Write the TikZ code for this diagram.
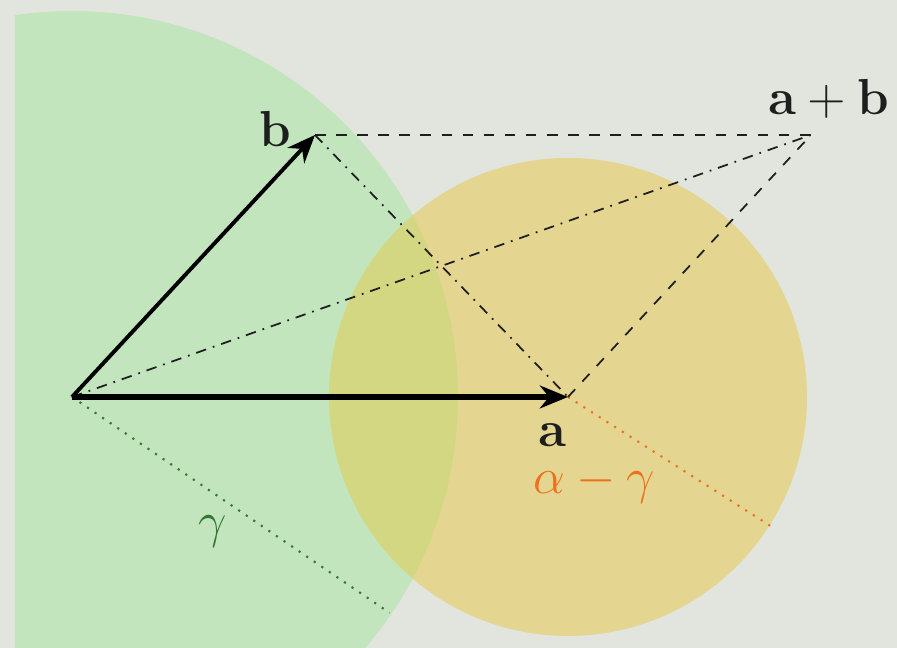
\documentclass[tikz,border=0pt]{standalone}
\usepackage{amsmath,amssymb}
\usepackage{xcolor}
\usetikzlibrary{arrows.meta,positioning,calc}
\definecolor{bggray}{RGB}{226,228,222}
\definecolor{diskgreen}{RGB}{194,229,190}
\definecolor{diskorange}{RGB}{230,202,70}
\definecolor{gammagreen}{RGB}{50,120,50}
\definecolor{alphaorange}{RGB}{238,112,30}
\definecolor{inkdark}{RGB}{30,30,30}

\begin{document}
\begin{tikzpicture}[>={Stealth[length=8pt,width=6.5pt]},font=\fontsize{14}{17}\selectfont,
  vec/.style={->,draw=black,line width=1.1pt},
  aux/.style={draw=inkdark,line width=0.5pt,dashed},
  diag/.style={draw=inkdark,line width=0.5pt,dash dot},
  radline/.style={line width=0.6pt,dotted}]
\fill[bggray] (0,0) rectangle (8.97,6.48);
\useasboundingbox (0,0) rectangle (8.97,6.48);
\coordinate (O) at (0.72,2.51);
\coordinate (a) at (5.68,2.51);
\coordinate (b) at (3.15,5.13);
\coordinate (ab) at ($(a)+(b)-(O)$);
\coordinate (gend) at ($(O)+(-34.2:3.84)$);
\coordinate (oend) at ($(a)+(-32.5:2.41)$);
% the two disks
\begin{scope}
  \clip (0.15,0) rectangle (8.97,6.48);
  \fill[diskgreen] (O) circle (3.86);
\end{scope}
\fill[diskorange,fill opacity=0.5] (a) circle (2.39);
% radii
\draw[radline,draw=gammagreen] (O) -- (gend);
\draw[radline,draw=alphaorange] (a) -- (oend);
% parallelogram
\draw[aux] (b) -- (ab);
\draw[aux] (a) -- (ab);
\draw[diag] (O) -- (ab);
\draw[diag] (b) -- (a);
% vectors
\draw[vec,line width=1.6pt] (O) -- (a);
\draw[vec] (O) -- (b);
% labels
\node[text=inkdark,anchor=south east,inner sep=0pt,xshift=-6.5pt,yshift=-3.5pt] (lb) at (b) {$\mathbf{b}$};
\node[text=inkdark,anchor=south,inner sep=0pt,xshift=5pt,yshift=4.5pt] (lab) at (ab) {$\mathbf{a}+\mathbf{b}$};
\node[text=inkdark,anchor=north,inner sep=0pt,xshift=-4.5pt,yshift=-7.5pt] (la) at (a) {$\mathbf{a}$};
\node[text=alphaorange,below=4.5pt of la,xshift=12pt,inner sep=0pt] (lag) {$\alpha-\gamma$};
\node[text=gammagreen,inner sep=0pt] (lg) at (2.13,1.16) {$\gamma$};
\end{tikzpicture}
\end{document}
